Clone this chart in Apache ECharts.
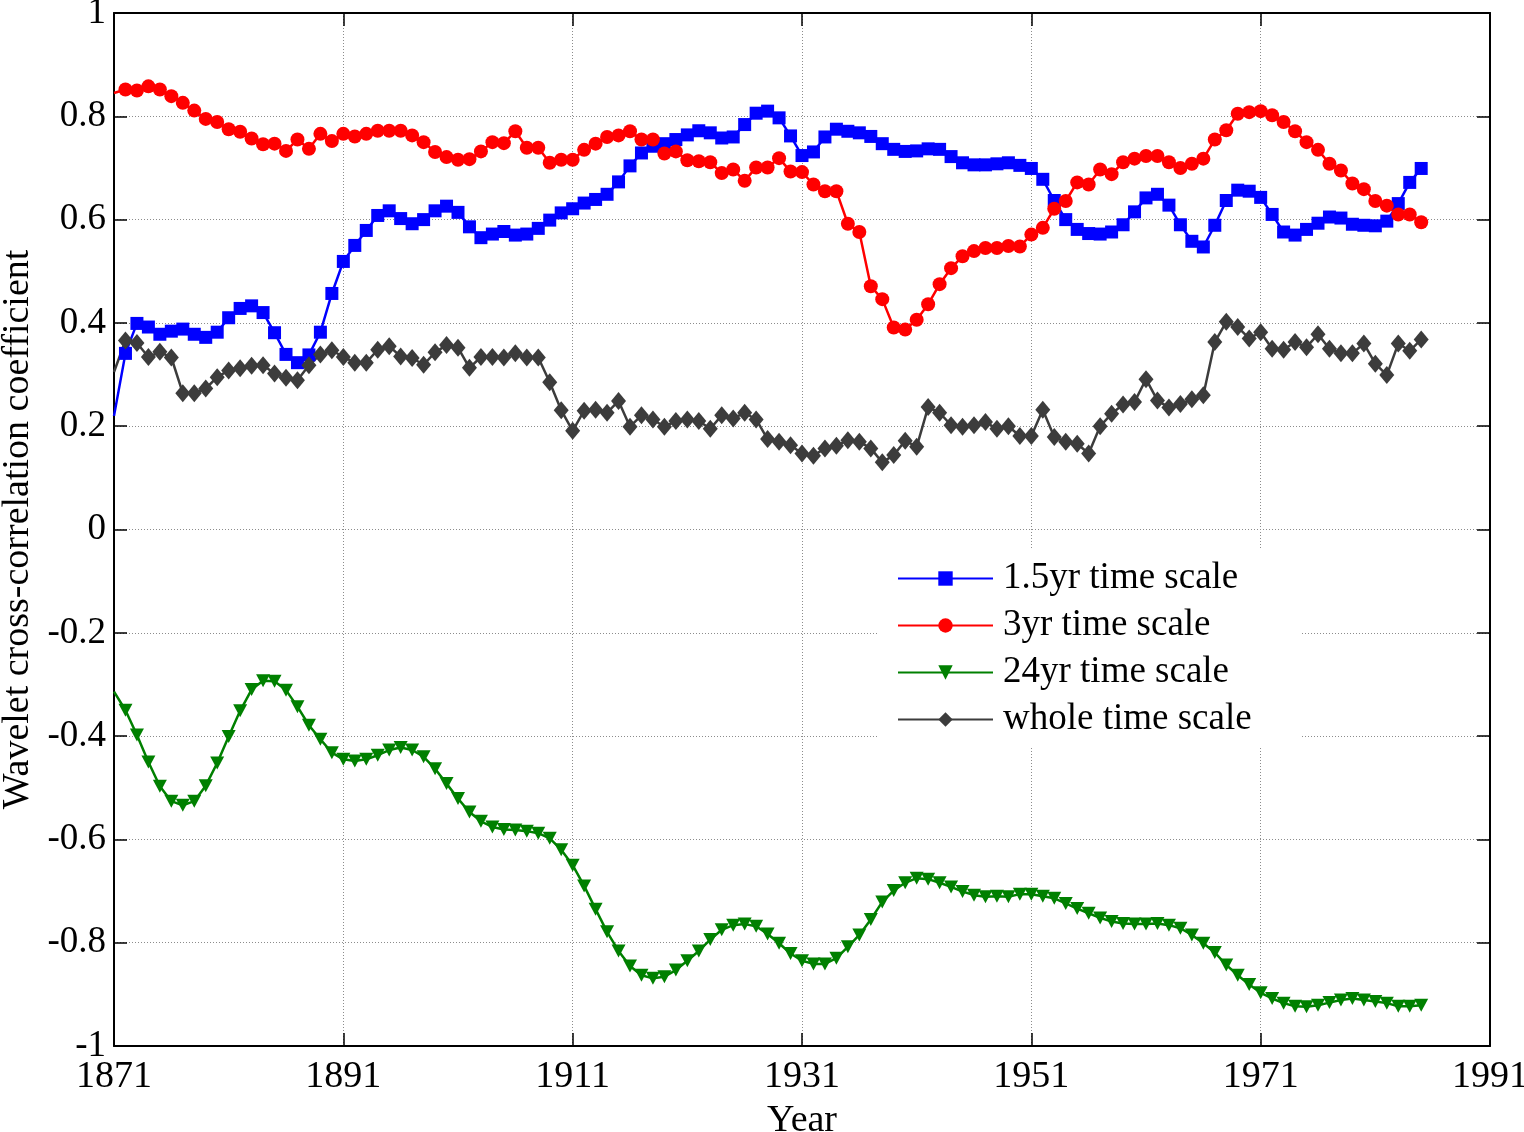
<!DOCTYPE html>
<html>
<head>
<meta charset="utf-8">
<script src="https://cdn.jsdelivr.net/npm/echarts@6/dist/echarts.min.js"></script>
<style>
html,body{margin:0;padding:0;background:#fff;}
#chart{width:1524px;height:1132px;}
</style>
</head>
<body>
<div id="chart"></div>
<script>
// ---- data (annual values, 1871..1985) ----
const startYear = 1871;
const xTicks = [1871, 1891, 1911, 1931, 1951, 1971, 1991];
const yTicks = [-1, -0.8, -0.6, -0.4, -0.2, 0, 0.2, 0.4, 0.6, 0.8, 1];
const seriesNames = ['1.5yr time scale', '3yr time scale', '24yr time scale', 'whole time scale'];

const scale15 = [
0.220,0.341,0.399,0.392,0.378,0.384,0.388,0.378,0.372,0.382,
0.410,0.428,0.433,0.420,0.381,0.339,0.323,0.338,0.382,0.457,
0.519,0.550,0.579,0.608,0.617,0.602,0.592,0.600,0.617,0.626,
0.614,0.586,0.565,0.572,0.577,0.570,0.572,0.583,0.599,0.613,
0.621,0.632,0.639,0.649,0.673,0.704,0.729,0.742,0.747,0.755,
0.764,0.772,0.768,0.758,0.760,0.784,0.806,0.810,0.797,0.762,
0.724,0.731,0.760,0.775,0.771,0.768,0.761,0.747,0.736,0.732,
0.733,0.737,0.736,0.722,0.710,0.706,0.706,0.708,0.710,0.705,
0.699,0.678,0.637,0.600,0.581,0.573,0.572,0.576,0.590,0.615,
0.642,0.649,0.628,0.590,0.558,0.547,0.589,0.637,0.657,0.655,
0.643,0.610,0.576,0.570,0.581,0.593,0.605,0.603,0.591,0.589,
0.588,0.597,0.631,0.672,0.699];

const scale3 = [
0.845,0.852,0.850,0.858,0.852,0.839,0.826,0.811,0.795,0.789,
0.775,0.770,0.757,0.746,0.747,0.733,0.755,0.737,0.766,0.752,
0.766,0.761,0.766,0.772,0.772,0.772,0.763,0.750,0.731,0.721,
0.716,0.717,0.732,0.750,0.748,0.771,0.739,0.739,0.710,0.716,
0.716,0.735,0.747,0.760,0.763,0.771,0.755,0.755,0.728,0.732,
0.715,0.713,0.711,0.690,0.697,0.675,0.701,0.701,0.719,0.693,
0.692,0.668,0.655,0.655,0.592,0.576,0.471,0.446,0.391,0.387,
0.406,0.436,0.475,0.506,0.529,0.539,0.545,0.545,0.549,0.548,
0.571,0.584,0.621,0.636,0.672,0.668,0.697,0.688,0.711,0.718,
0.723,0.723,0.711,0.700,0.708,0.718,0.755,0.773,0.805,0.808,
0.810,0.802,0.789,0.771,0.750,0.735,0.708,0.695,0.670,0.659,
0.636,0.627,0.610,0.610,0.595];

const scale24 = [
-0.314,-0.350,-0.398,-0.450,-0.497,-0.526,-0.534,-0.526,-0.496,-0.452,
-0.401,-0.351,-0.310,-0.293,-0.294,-0.311,-0.343,-0.379,-0.406,-0.432,
-0.445,-0.448,-0.445,-0.437,-0.427,-0.422,-0.427,-0.440,-0.463,-0.492,
-0.521,-0.547,-0.565,-0.576,-0.581,-0.582,-0.584,-0.588,-0.598,-0.620,
-0.650,-0.690,-0.735,-0.779,-0.816,-0.845,-0.863,-0.869,-0.866,-0.853,
-0.835,-0.816,-0.794,-0.775,-0.766,-0.764,-0.768,-0.783,-0.801,-0.821,
-0.835,-0.841,-0.841,-0.830,-0.808,-0.785,-0.755,-0.721,-0.699,-0.684,
-0.675,-0.677,-0.684,-0.692,-0.701,-0.708,-0.711,-0.710,-0.711,-0.706,
-0.706,-0.710,-0.714,-0.724,-0.734,-0.743,-0.752,-0.759,-0.763,-0.764,
-0.764,-0.763,-0.766,-0.772,-0.785,-0.801,-0.819,-0.843,-0.863,-0.881,
-0.897,-0.908,-0.917,-0.923,-0.924,-0.921,-0.916,-0.911,-0.908,-0.911,
-0.914,-0.917,-0.923,-0.923,-0.921];

const scaleWhole = [
0.305,0.366,0.361,0.334,0.344,0.333,0.264,0.264,0.273,0.295,
0.308,0.312,0.317,0.318,0.302,0.294,0.289,0.318,0.339,0.347,
0.334,0.323,0.323,0.348,0.355,0.335,0.332,0.319,0.343,0.357,
0.352,0.313,0.334,0.334,0.333,0.341,0.333,0.333,0.285,0.231,
0.191,0.230,0.232,0.226,0.249,0.199,0.221,0.213,0.199,0.210,
0.213,0.210,0.195,0.221,0.215,0.226,0.213,0.175,0.170,0.163,
0.147,0.143,0.157,0.162,0.173,0.170,0.157,0.130,0.144,0.172,
0.160,0.237,0.226,0.202,0.199,0.202,0.208,0.195,0.200,0.181,
0.181,0.232,0.179,0.170,0.166,0.147,0.200,0.224,0.242,0.247,
0.291,0.250,0.236,0.243,0.252,0.260,0.363,0.402,0.392,0.370,
0.382,0.350,0.348,0.363,0.353,0.378,0.350,0.341,0.341,0.360,
0.321,0.299,0.360,0.346,0.368];

// ---- build ----
function toData(arr) {
  return arr.map(function (v, i) {
    const item = { value: [startYear + i, v] };
    if (i === 0) item.symbol = 'none';
    return item;
  });
}

const FONT = 'Liberation Serif';
const chart = echarts.init(document.getElementById('chart'), null, { renderer: 'canvas' });

const axisLineStyle = { color: '#000', width: 2 };
const tickStyle = { show: true, inside: true, length: 13, lineStyle: { color: '#000', width: 1.5 } };
const gridLine = { show: true, lineStyle: { color: '#8c8c8c', width: 1, type: [1, 2] } };

const option = {
  backgroundColor: '#ffffff',
  animation: false,
  grid: { left: 114, top: 13, width: 1376, height: 1033, containLabel: false, outerBoundsMode: 'none' },
  legend: {
    orient: 'vertical',
    left: 878,
    top: 550,
    padding: [10, 50, 10, 19],
    backgroundColor: '#ffffff',
    itemWidth: 95,
    itemHeight: 18,
    itemGap: 10,
    data: seriesNames,
    textStyle: { fontFamily: FONT, fontSize: 37, lineHeight: 37, color: '#000', padding: [0, 0, 0, 5] }
  },
  xAxis: [{
    type: 'value', min: xTicks[0], max: xTicks[xTicks.length - 1], interval: 20,
    position: 'bottom',
    name: 'Year', nameLocation: 'middle', nameGap: 56,
    nameTextStyle: { fontFamily: FONT, fontSize: 38, color: '#000' },
    axisLine: { show: true, onZero: false, lineStyle: axisLineStyle },
    axisTick: tickStyle,
    axisLabel: { fontFamily: FONT, fontSize: 38, color: '#000', margin: 12,
      formatter: function (v) { return String(Math.round(v)); } },
    splitLine: gridLine
  }, {
    type: 'value', min: xTicks[0], max: xTicks[xTicks.length - 1], interval: 20,
    position: 'top',
    axisLine: { show: true, onZero: false, lineStyle: axisLineStyle },
    axisTick: tickStyle,
    axisLabel: { show: false },
    splitLine: { show: false }
  }],
  yAxis: [{
    type: 'value', min: yTicks[0], max: yTicks[yTicks.length - 1], interval: 0.2,
    position: 'left',
    name: 'Wavelet cross-correlation coefficient', nameLocation: 'middle', nameGap: 67, nameRotate: 90,
    nameTextStyle: { fontFamily: FONT, fontSize: 38, color: '#000' },
    axisLine: { show: true, onZero: false, lineStyle: axisLineStyle },
    axisTick: tickStyle,
    axisLabel: {
      fontFamily: FONT, fontSize: 37, color: '#000', margin: 8,
      formatter: function (v) { return String(Math.round(v * 10) / 10); }
    },
    splitLine: gridLine
  }, {
    type: 'value', min: yTicks[0], max: yTicks[yTicks.length - 1], interval: 0.2,
    position: 'right',
    axisLine: { show: true, onZero: false, lineStyle: axisLineStyle },
    axisTick: tickStyle,
    axisLabel: { show: false },
    splitLine: { show: false }
  }],
  series: [{
    name: seriesNames[0], type: 'line', xAxisIndex: 0, yAxisIndex: 0,
    data: toData(scale15),
    symbol: 'rect', symbolSize: 13, showAllSymbol: true,
    lineStyle: { color: '#0000ff', width: 2.5 },
    itemStyle: { color: '#0000ff' }
  }, {
    name: seriesNames[1], type: 'line', xAxisIndex: 0, yAxisIndex: 0,
    data: toData(scale3),
    symbol: 'circle', symbolSize: 14, showAllSymbol: true,
    lineStyle: { color: '#ff0000', width: 2.5 },
    itemStyle: { color: '#ff0000' }
  }, {
    name: seriesNames[2], type: 'line', xAxisIndex: 0, yAxisIndex: 0,
    data: toData(scale24),
    symbol: 'triangle', symbolRotate: 180, symbolSize: [14, 13], showAllSymbol: true,
    lineStyle: { color: '#008000', width: 2.5 },
    itemStyle: { color: '#008000' }
  }, {
    name: seriesNames[3], type: 'line', xAxisIndex: 0, yAxisIndex: 0,
    data: toData(scaleWhole),
    symbol: 'diamond', symbolSize: [15, 18], showAllSymbol: true,
    lineStyle: { color: '#3c3c3c', width: 2.5 },
    itemStyle: { color: '#3c3c3c' }
  }]
};
chart.setOption(option);
</script>
</body>
</html>
